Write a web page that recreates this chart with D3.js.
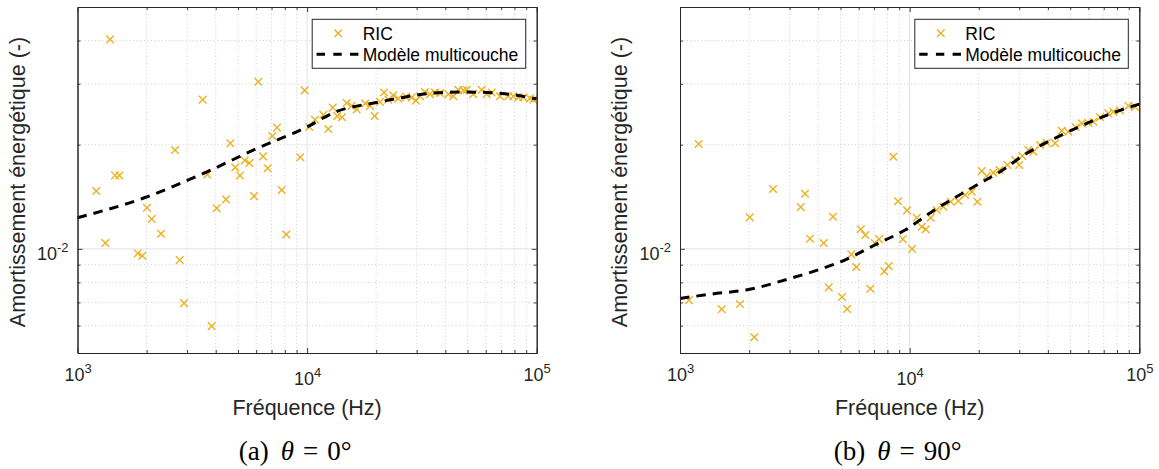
<!DOCTYPE html>
<html><head><meta charset="utf-8">
<script src="https://cdn.jsdelivr.net/npm/d3@7"></script>
<style>body{margin:0;background:#fff}svg{display:block}</style>
</head><body><svg id="c" width="1159" height="469"></svg>
<script>
// ---------- DATA ----------
const freqA = [1386,1208,1322,1457,1521,1829,1915,2007,2105,2311,2659,2787,2910,3510,3676,3841,4040,4434,4629,4867,5102,5349,5603,5873,6130,6427,6737,7055,7395,7752,8117,9341,9761,10222,10824,11766,12372,12928,13536,14191,14876,15644,16444,17926,18793,19699,20773,21623,22578,23730,24956,26960,28547,29803,31021,32621,34297,36060,37917,41210,43340,45560,47900,49560,52930,57590,60550,63680,69200,75200,79100,83170,87420,93500,96650];
const dampA = [0.0403,0.0147,0.0104,0.0163,0.0163,0.0097,0.00955,0.01315,0.0122,0.01106,0.0193,0.00928,0.00697,0.0270,0.0164,0.00598,0.0131,0.0139,0.0202,0.0172,0.0163,0.0180,0.0177,0.0142,0.0304,0.0185,0.0171,0.0212,0.0224,0.0148,0.0110,0.0184,0.0287,0.0225,0.0236,0.0244,0.0222,0.0256,0.0242,0.0240,0.0264,0.0259,0.0253,0.0263,0.0259,0.0242,0.0266,0.0283,0.0270,0.0278,0.0272,0.0275,0.0274,0.0268,0.0276,0.0284,0.0280,0.0283,0.0282,0.0280,0.0276,0.0288,0.0287,0.0288,0.0280,0.0288,0.0280,0.0283,0.0276,0.0276,0.0276,0.0274,0.0274,0.0272,0.0270];
const modelFreqA = [1000,1929,3664,6033,10120,12960,20773,25390,35340,47700,60900,82100,100000];
const modelA = [0.0123,0.0140,0.0167,0.0195,0.0226,0.0247,0.0266,0.0273,0.0282,0.0284,0.0283,0.0278,0.0271];

const freqB = [1094,1206,1519,1825,2012,2106,2541,3356,3503,3683,4226,4442,4638,5077,5338,5573,5859,6123,6412,6742,7047,7357,7760,8110,8492,8902,9333,9743,10244,10737,11290,11753,12357,13122,14024,15100,16296,17425,18643,19722,20606,21670,23140,24590,26640,28780,29970,30960,32880,34570,36980,39550,42980,45970,49110,52890,56170,60010,63110,67500,73340,77130,82480,89640,95870];
const dampB = [0.00711,0.0201,0.00669,0.00693,0.01233,0.00555,0.01489,0.0132,0.01443,0.0107,0.0104,0.00774,0.01238,0.00726,0.0067,0.00964,0.00886,0.01139,0.01096,0.00767,0.0104,0.01067,0.00861,0.00892,0.01846,0.01372,0.01067,0.01292,0.0100,0.0123,0.01158,0.01139,0.0123,0.01295,0.01323,0.01368,0.01375,0.01431,0.01462,0.01368,0.01678,0.01623,0.0166,0.0169,0.01747,0.01806,0.01747,0.01855,0.0193,0.01908,0.01995,0.02026,0.0202,0.02194,0.0218,0.02245,0.02305,0.0231,0.0233,0.0240,0.02464,0.0249,0.0251,0.0259,0.0257];
const modelFreqB = [1000,1369,2012,2954,3990,5216,7047,9550,12680,19600,24760,32360,43710,59050,77100,100000];
const modelB = [0.00719,0.0074,0.00764,0.00818,0.00869,0.00928,0.01026,0.01133,0.01289,0.01529,0.01671,0.01888,0.0210,0.02305,0.02474,0.0262];

const xDomain = [1e3, 1e5];
const yDomain = [0.005, 0.05];
const xTickValues = [1e3, 1e4, 1e5];
const xTickExps = ["3", "4", "5"];
const yTickValues = [1e-2];
const yTickExps = ["-2"];
const seriesNames = ["RIC", "Modèle multicouche"];
const xLabel = "Fréquence (Hz)";
const yLabel = "Amortissement énergétique (-)";
const panelLetters = ["(a)", "(b)"];
const panelAngles = ["0°", "90°"];

// ---------- DRAW ----------
const svg = d3.select("#c");
const FONT = "'Liberation Sans', Arial, Helvetica, sans-serif";
const SERIF = "'Liberation Serif', 'DejaVu Serif', serif";
const AX = "#262626", ORANGE = "#EDB120";
const TOP = 7, BOTTOM = 353;
const panels = [
  {left: 77.5, right: 536.7, fx: freqA, fy: dampA, mx: modelFreqA, my: modelA},
  {left: 680, right: 1139.3, fx: freqB, fy: dampB, mx: modelFreqB, my: modelB}
];

function cross(sel, cx, cy, r) {
  sel.append("path")
    .attr("d", `M${cx - r},${cy - r}L${cx + r},${cy + r}M${cx + r},${cy - r}L${cx - r},${cy + r}`)
    .attr("stroke", ORANGE).attr("stroke-width", 1.4).attr("fill", "none");
}

panels.forEach((p, i) => {
  const x = d3.scaleLog().domain(xDomain).range([p.left, p.right]);
  const y = d3.scaleLog().domain(yDomain).range([BOTTOM, TOP]);
  const g = svg.append("g");
  const isMajorX = v => xTickValues.some(t => Math.abs(t - v) / t < 1e-9);
  const isMajorY = v => yTickValues.some(t => Math.abs(t - v) / t < 1e-9);
  const xMinor = x.ticks().filter(v => !isMajorX(v) && v > xDomain[0] && v < xDomain[1]);
  const yMinor = y.ticks().filter(v => !isMajorY(v) && v > yDomain[0] * 1.0001 && v < yDomain[1] * 0.9999);

  // grid
  const grid = g.append("g");
  grid.selectAll("line.gxm").data(xMinor).join("line")
    .attr("x1", d => x(d)).attr("x2", d => x(d)).attr("y1", TOP).attr("y2", BOTTOM)
    .attr("stroke", "#c4c4c4").attr("stroke-width", 0.8).attr("stroke-dasharray", "1,2.5");
  grid.selectAll("line.gym").data(yMinor).join("line")
    .attr("y1", d => y(d)).attr("y2", d => y(d)).attr("x1", p.left).attr("x2", p.right)
    .attr("stroke", "#c4c4c4").attr("stroke-width", 0.8).attr("stroke-dasharray", "1,2.5");
  grid.selectAll("line.gx").data(xTickValues.filter(v => v > xDomain[0] && v < xDomain[1])).join("line")
    .attr("x1", d => x(d)).attr("x2", d => x(d)).attr("y1", TOP).attr("y2", BOTTOM)
    .attr("stroke", "#e3e3e3").attr("stroke-width", 1);
  grid.selectAll("line.gy").data(yTickValues).join("line")
    .attr("y1", d => y(d)).attr("y2", d => y(d)).attr("x1", p.left).attr("x2", p.right)
    .attr("stroke", "#e3e3e3").attr("stroke-width", 1);

  // data crosses
  const pts = g.append("g");
  d3.zip(p.fx, p.fy).forEach(d => cross(pts, x(d[0]), y(d[1]), 3.8));

  // model line
  const line = d3.line().x(d => x(d[0])).y(d => y(d[1])).curve(d3.curveMonotoneX);
  g.append("path").datum(d3.zip(p.mx, p.my)).attr("d", line)
    .attr("fill", "none").attr("stroke", "#000").attr("stroke-width", 3)
    .attr("stroke-dasharray", "9.5,7");

  // axes (ticks inward)
  const mk = (gen, tr, vals, size) => {
    const a = g.append("g").attr("transform", tr)
      .call(gen.tickValues(vals).tickSizeInner(-size).tickSizeOuter(0).tickFormat(""));
    a.select(".domain").attr("stroke", AX).attr("stroke-width", 1);
    a.selectAll(".tick line").attr("stroke", AX).attr("stroke-width", 0.9);
    return a;
  };
  const bx = mk(d3.axisBottom(x), `translate(0,${BOTTOM})`, xTickValues, 5);
  mk(d3.axisBottom(x), `translate(0,${BOTTOM})`, xMinor, 3);
  mk(d3.axisTop(x), `translate(0,${TOP})`, xTickValues, 5);
  mk(d3.axisTop(x), `translate(0,${TOP})`, xMinor, 3);
  const ly = mk(d3.axisLeft(y), `translate(${p.left},0)`, yTickValues, 5);
  mk(d3.axisLeft(y), `translate(${p.left},0)`, yMinor, 3);
  mk(d3.axisRight(y), `translate(${p.right},0)`, yTickValues, 5);
  mk(d3.axisRight(y), `translate(${p.right},0)`, yMinor, 3);

  // tick labels with superscripts
  bx.selectAll(".tick text").each(function (d) {
    const k = xTickValues.findIndex(t => Math.abs(t - d) / t < 1e-9);
    const t = d3.select(this).text(null)
      .attr("y", k === 1 ? 32 : 28).attr("dy", 0)
      .attr("font-family", FONT).attr("font-size", 18).attr("fill", AX)
      .attr("text-anchor", "middle").attr("dx", 0);
    t.append("tspan").text("10");
    t.append("tspan").attr("dy", -8).attr("font-size", 13).text(xTickExps[k]);
  });
  ly.selectAll(".tick text").each(function (d) {
    const k = yTickValues.findIndex(t => Math.abs(t - d) / t < 1e-9);
    const t = d3.select(this).text(null)
      .attr("x", -9).attr("y", 10.5).attr("dy", 0)
      .attr("font-family", FONT).attr("font-size", 18).attr("fill", AX)
      .attr("text-anchor", "end");
    t.append("tspan").text("10");
    t.append("tspan").attr("dy", -8).attr("font-size", 13).text(yTickExps[k]);
  });

  // axis labels
  g.append("text").attr("x", (p.left + p.right) / 2).attr("y", 414.5)
    .attr("text-anchor", "middle").attr("font-family", FONT).attr("font-size", 21.5)
    .attr("fill", AX).text(xLabel);
  g.append("text")
    .attr("transform", `translate(${p.left - 53},${(TOP + BOTTOM) / 2 + 2}) rotate(-90)`)
    .attr("text-anchor", "middle").attr("font-family", FONT).attr("font-size", 21.5)
    .attr("fill", AX).text(yLabel);

  // legend
  const bw = 213.5, bh = 49;
  const bxR = p.right - 11, bxL = bxR - bw, byT = 19.3;
  const lg = g.append("g");
  lg.append("rect").attr("x", bxL).attr("y", byT).attr("width", bw).attr("height", bh)
    .attr("fill", "#fff").attr("stroke", AX).attr("stroke-width", 1);
  cross(lg, bxL + 26, byT + 14, 3.8);
  lg.append("line").attr("x1", bxL + 4.4).attr("x2", bxL + 47).attr("y1", byT + 35).attr("y2", byT + 35)
    .attr("stroke", "#000").attr("stroke-width", 3).attr("stroke-dasharray", "8.4,8.3");
  lg.append("text").attr("x", bxL + 50.5).attr("y", byT + 20.3).attr("font-family", FONT)
    .attr("font-size", 17.5).attr("fill", "#000").text(seriesNames[0]);
  lg.append("text").attr("x", bxL + 50.5).attr("y", byT + 41.5).attr("font-family", FONT)
    .attr("font-size", 17.5).attr("fill", "#000").text(seriesNames[1]);

  // caption
  const cap = g.append("text").attr("x", (p.left + p.right) / 2 - 12).attr("y", 460)
    .attr("text-anchor", "middle").attr("font-family", SERIF).attr("font-size", 27).attr("fill", "#000");
  cap.append("tspan").text(panelLetters[i]);
  cap.append("tspan").attr("dx", 12).attr("font-style", "italic").text("θ");
  cap.append("tspan").attr("dx", 9).text("=");
  cap.append("tspan").attr("dx", 9).text(panelAngles[i]);
});
</script>
</body></html>
